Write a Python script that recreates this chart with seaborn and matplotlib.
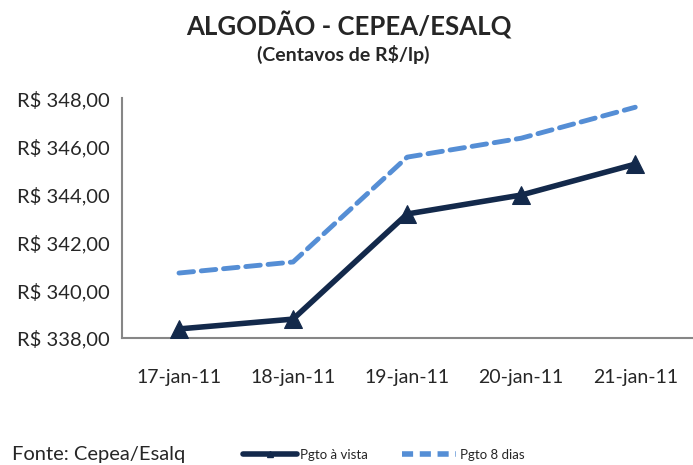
import numpy as np
import pandas as pd
import matplotlib
matplotlib.use("Agg")
import matplotlib.pyplot as plt
from matplotlib.lines import Line2D
import seaborn as sns

datas = ["17-jan-11", "18-jan-11", "19-jan-11", "20-jan-11", "21-jan-11"]
pgto_vista = [338.38, 338.79, 343.17, 343.96, 345.25]
pgto_8dias = [340.71, 341.17, 345.54, 346.33, 347.62]

sns.set_style("white")
plt.rcParams['font.family'] = ['Lato', 'DejaVu Sans']

df = pd.DataFrame({"pos": np.arange(len(datas)), "vista": pgto_vista, "oito": pgto_8dias})

fig = plt.figure(figsize=(6.93, 4.65), dpi=100)
ax = fig.add_axes([0.176, 0.273, 0.823, 0.516])

azul_esc = "#13294B"
azul_cl = "#558ED5"

sns.lineplot(data=df, x="pos", y="oito", ax=ax, color=azul_cl, linewidth=3.5,
             linestyle=(0, (3, 1.6)), dash_capstyle="round")
sns.lineplot(data=df, x="pos", y="vista", ax=ax, color=azul_esc, linewidth=4,
             marker="^", markersize=13, markeredgecolor=azul_esc)

ax.set_xlim(-0.5, 4.5)
ax.set_ylim(338, 348)
ax.set_yticks(np.arange(338, 349, 2))
ax.set_yticklabels([("R$ %.2f" % v).replace(".", ",") for v in np.arange(338, 349, 2)])
ax.set_xticks(np.arange(len(datas)))
ax.set_xticklabels(datas)
ax.set_xticks(np.arange(-0.5, 5, 1), minor=True)
ax.tick_params(axis="x", which="major", length=0, pad=22, labelsize=14)
ax.tick_params(axis="x", which="minor", length=5, color="#868686", width=1.2, direction="out")
ax.tick_params(axis="y", length=5, color="#868686", width=1.2, direction="out", pad=4, labelsize=14.5)
ax.set_xlabel("")
ax.set_ylabel("")
for s in ["top", "right"]:
    ax.spines[s].set_visible(False)
for s in ["left", "bottom"]:
    ax.spines[s].set_color("#868686")
    ax.spines[s].set_linewidth(1.5)
ax.spines["bottom"].set_zorder(0)

fig.text(0.503, 0.945, "ALGODÃO - CEPEA/ESALQ", ha="center", va="center",
         fontsize=18.5, fontweight="bold")
fig.text(0.495, 0.882, "(Centavos de R$/lp)", ha="center", va="center",
         fontsize=14, fontweight="bold")
fig.text(0.018, 0.022, "Fonte: Cepea/Esalq", ha="left", va="center", fontsize=14.5)

handles = [Line2D([], [], color=azul_esc, linewidth=4, marker="^", markersize=5),
           Line2D([], [], color=azul_cl, linewidth=4, linestyle=(0, (2, 1.2)))]
fig.legend(handles, ["Pgto à vista", "Pgto 8 dias"], loc="center left", bbox_to_anchor=(0.333, 0.022),
           ncol=2, frameon=False, fontsize=9.5, handlelength=4.1, handletextpad=0.25,
           columnspacing=2.6)

fig.savefig("out.png", dpi=100)
